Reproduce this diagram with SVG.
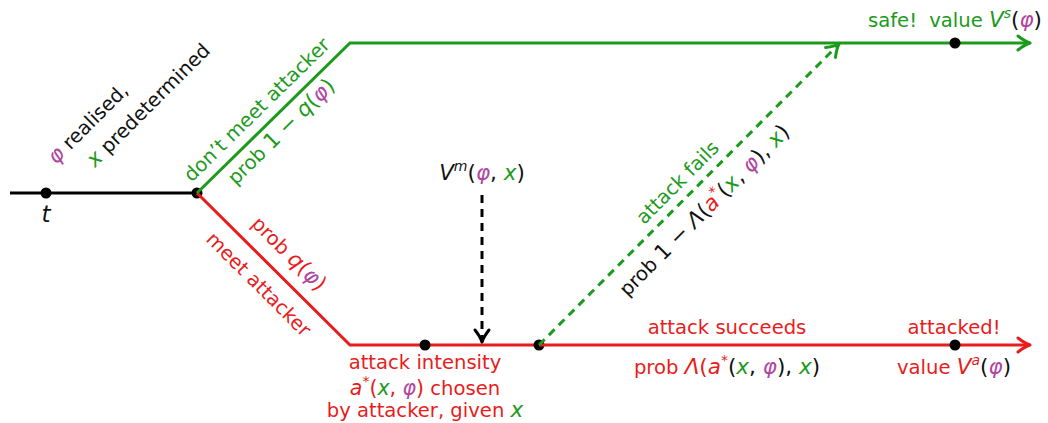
<svg xmlns="http://www.w3.org/2000/svg" width="1048" height="423" viewBox="0 0 1048 423">
  <style>
    text { font-family: "DejaVu Sans", "Liberation Sans", sans-serif; font-size: 19.6px; fill: #111; }
    .i { font-style: italic; }
    .mt { font-size: 21.5px; }
    .ms { font-size: 20.5px; }
    .g { fill: #1c9a1c; }
    .r { fill: #e81c1c; }
    .p { fill: #b0479f; }
    .k { fill: #111; }
    .sup { font-size: 14px; }
    .edge { fill: none; stroke-width: 3; stroke-linejoin: miter; }
    .dash { stroke-dasharray: 8 6; }
    .dot { fill: #000; }
  </style>
  <defs>
    <marker id="ah-green" viewBox="-15 -10 18 20" refX="0" refY="0" markerWidth="18" markerHeight="20" markerUnits="userSpaceOnUse" orient="auto">
      <path d="M-12,-7 Q-5,-1.5 0,0 Q-5,1.5 -12,7" fill="none" stroke="#1c9a1c" stroke-width="3" stroke-linecap="round" stroke-linejoin="round"/>
    </marker>
    <marker id="ah-red" viewBox="-15 -10 18 20" refX="0" refY="0" markerWidth="18" markerHeight="20" markerUnits="userSpaceOnUse" orient="auto">
      <path d="M-12,-7 Q-5,-1.5 0,0 Q-5,1.5 -12,7" fill="none" stroke="#e81c1c" stroke-width="3" stroke-linecap="round" stroke-linejoin="round"/>
    </marker>
    <marker id="ah-black" viewBox="-15 -10 18 20" refX="0" refY="0" markerWidth="18" markerHeight="20" markerUnits="userSpaceOnUse" orient="auto">
      <path d="M-12,-7 Q-5,-1.5 0,0 Q-5,1.5 -12,7" fill="none" stroke="#000" stroke-width="3" stroke-linecap="round" stroke-linejoin="round"/>
    </marker>
  </defs>

  <g id="connectors">
    <!-- timeline before the encounter -->
    <line class="edge" x1="10" y1="193" x2="197" y2="193" stroke="#000"/>
    <circle class="dot" cx="46" cy="193" r="5.5"/>
    <circle class="dot" cx="197" cy="193" r="5.5"/>
    <!-- branch: meet attacker -->
    <polyline class="edge" points="197,193 350,345 539,345" stroke="#e81c1c"/>
    <circle class="dot" cx="425" cy="345" r="5.5"/>
    <circle class="dot" cx="539" cy="345" r="5.5"/>
    <line class="edge" x1="539" y1="345" x2="1030" y2="345" stroke="#e81c1c" marker-end="url(#ah-red)"/>
    <!-- attack fails: jump to the safe branch -->
    <line class="edge dash" x1="539" y1="345" x2="839" y2="44" stroke="#1c9a1c" marker-end="url(#ah-green)"/>
    <!-- branch: don't meet attacker -->
    <polyline class="edge" points="197,193 350,43 1030,43" stroke="#1c9a1c" marker-end="url(#ah-green)"/>
    <circle class="dot" cx="955" cy="43" r="5.5"/>
    <circle class="dot" cx="955" cy="345" r="5.5"/>
    <!-- value of meeting feeds into the attack choice -->
    <line class="edge dash" x1="482" y1="195" x2="482" y2="342" stroke="#000" marker-end="url(#ah-black)"/>
  </g>

  <g id="node-start">
    <text x="46" y="222" text-anchor="middle" class="i" style="font-size:23px">t</text>
    <text transform="translate(56,165) rotate(-45)"><tspan class="p i mt">φ</tspan> realised,</text>
    <text transform="translate(95,168) rotate(-45)"><tspan class="g i mt">x</tspan> predetermined</text>
  </g>

  <g id="node-no-meet" transform="translate(197,193) rotate(-44.43)">
    <text x="101" y="-11" text-anchor="middle" class="g">don’t meet attacker</text>
    <text x="103" y="22" text-anchor="middle" class="g">prob <tspan class="mt">1 − </tspan><tspan class="i mt">q</tspan><tspan class="mt">(</tspan><tspan class="p i mt">φ</tspan><tspan class="mt">)</tspan></text>
  </g>

  <g id="node-meet" transform="translate(197,193) rotate(44.8)">
    <text x="108" y="-15" text-anchor="middle" class="r">prob <tspan class="i mt">q</tspan><tspan class="mt">(</tspan><tspan class="p i mt">φ</tspan><tspan class="mt">)</tspan></text>
    <text x="108" y="28" text-anchor="middle" class="r">meet attacker</text>
  </g>

  <g id="node-meet-value">
    <text x="482" y="180" text-anchor="middle" class="mt"><tspan class="i">V</tspan><tspan class="sup i" dy="-9">m</tspan><tspan dy="9">(</tspan><tspan class="p i">φ</tspan>, <tspan class="g i">x</tspan>)</text>
  </g>

  <g id="node-intensity">
    <text x="425" y="369" text-anchor="middle" class="r">attack intensity</text>
    <text x="425" y="395" text-anchor="middle" class="r"><tspan class="i ms">a</tspan><tspan class="sup" dy="-9">*</tspan><tspan class="ms" dy="9">(</tspan><tspan class="g i ms">x</tspan><tspan class="ms">, </tspan><tspan class="p i ms">φ</tspan><tspan class="ms">)</tspan> chosen</text>
    <text x="425" y="417" text-anchor="middle" class="r">by attacker, given <tspan class="g i mt">x</tspan></text>
  </g>

  <g id="node-fails" transform="translate(539,345) rotate(-45.1)">
    <text x="213" y="-10" text-anchor="middle" class="g">attack fails</text>
    <text x="212" y="29" text-anchor="middle">prob <tspan class="mt">1 − </tspan><tspan class="i mt">Λ</tspan><tspan class="mt">(</tspan><tspan class="r i mt">a</tspan><tspan class="r sup" dy="-9">*</tspan><tspan class="mt" dy="9">(</tspan><tspan class="g i mt">x</tspan><tspan class="mt">, </tspan><tspan class="p i mt">φ</tspan><tspan class="mt">), </tspan><tspan class="g i mt">x</tspan><tspan class="mt">)</tspan></text>
  </g>

  <g id="node-succeeds">
    <text x="727" y="334" text-anchor="middle" class="r">attack succeeds</text>
    <text x="727" y="374" text-anchor="middle" class="r">prob <tspan class="i mt">Λ</tspan><tspan class="mt">(</tspan><tspan class="i mt">a</tspan><tspan class="sup" dy="-9">*</tspan><tspan class="k mt" dy="9">(</tspan><tspan class="g i mt">x</tspan><tspan class="k mt">, </tspan><tspan class="p i mt">φ</tspan><tspan class="k mt">), </tspan><tspan class="g i mt">x</tspan><tspan class="k mt">)</tspan></text>
  </g>

  <g id="node-attacked">
    <text x="954" y="334" text-anchor="middle" class="r">attacked!</text>
    <text x="954" y="374" text-anchor="middle" class="r">value <tspan class="i mt">V</tspan><tspan class="sup i" dy="-9">a</tspan><tspan class="k mt" dy="9">(</tspan><tspan class="p i mt">φ</tspan><tspan class="k mt">)</tspan></text>
  </g>

  <g id="node-safe">
    <text x="1042" y="27" text-anchor="end" class="g">safe! <tspan dx="6">value </tspan><tspan class="i mt">V</tspan><tspan class="sup i" dy="-9">s</tspan><tspan class="k mt" dy="9">(</tspan><tspan class="p i mt">φ</tspan><tspan class="k mt">)</tspan></text>
  </g>
</svg>
